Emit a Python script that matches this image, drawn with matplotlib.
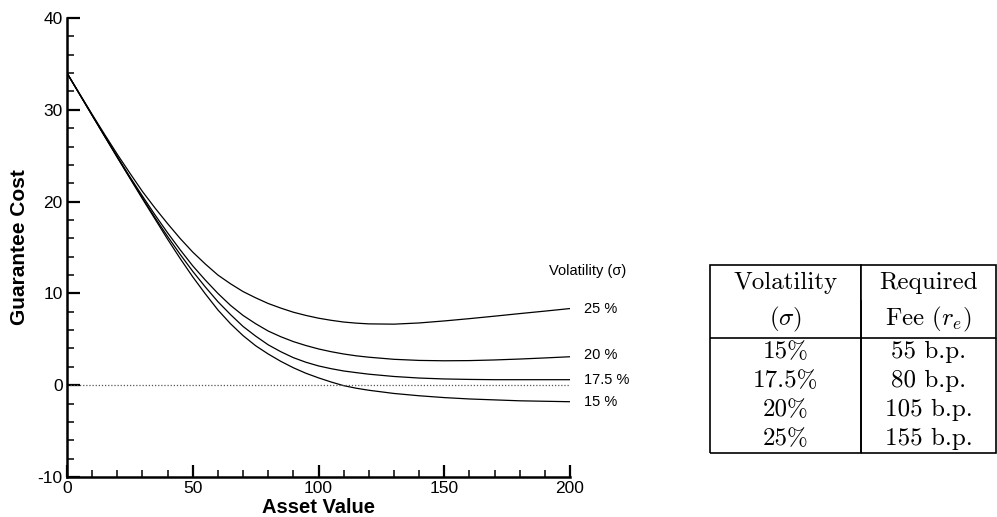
import numpy as np
import matplotlib
matplotlib.use("Agg")
import matplotlib.pyplot as plt
from matplotlib.ticker import MultipleLocator

plt.rcParams['font.family'] = ['Liberation Sans', 'DejaVu Sans']
plt.rcParams['axes.unicode_minus'] = False
plt.rcParams['mathtext.fontset'] = 'cm'

# asset value grid (finer where the curves bend) and guarantee cost per volatility
asset = [0, 5, 10, 15, 20, 25, 30, 35, 40, 45, 50, 55, 60, 65, 70, 75, 80, 85,
         90, 95, 100, 105, 110, 115, 120, 130, 140, 150, 160, 170, 180, 190, 200]
cost_15 = [34.0, 31.7, 29.4, 27.1, 24.8, 22.55, 20.3, 18.1, 15.9, 13.8, 11.8,
           9.95, 8.2, 6.7, 5.4, 4.3, 3.4, 2.6, 1.9, 1.3, 0.8, 0.35, -0.05, -0.33,
           -0.55, -0.9, -1.15, -1.35, -1.5, -1.6, -1.7, -1.75, -1.8]
cost_175 = [34.0, 31.7, 29.4, 27.1, 24.85, 22.6, 20.4, 18.25, 16.2, 14.25, 12.4,
            10.7, 9.1, 7.7, 6.4, 5.35, 4.4, 3.65, 3.0, 2.5, 2.1, 1.8, 1.55, 1.37,
            1.2, 0.95, 0.78, 0.68, 0.63, 0.6, 0.6, 0.6, 0.6]
cost_20 = [34.0, 31.7, 29.4, 27.15, 24.9, 22.7, 20.6, 18.55, 16.6, 14.75, 13.0,
           11.45, 10.0, 8.7, 7.6, 6.7, 5.9, 5.28, 4.75, 4.32, 3.95, 3.65, 3.4, 3.2,
           3.05, 2.82, 2.7, 2.66, 2.68, 2.75, 2.85, 2.97, 3.1]
cost_25 = [34.0, 31.75, 29.5, 27.3, 25.15, 23.1, 21.1, 19.3, 17.6, 15.98, 14.5,
           13.2, 12.0, 11.05, 10.2, 9.52, 8.9, 8.4, 7.95, 7.6, 7.3, 7.07, 6.88, 6.76,
           6.68, 6.65, 6.78, 7.0, 7.25, 7.52, 7.8, 8.07, 8.35]

curve_labels = ['25 %', '20 %', '17.5 %', '15 %']
curves = [cost_25, cost_20, cost_175, cost_15]

# required fee table
vol_col = ['15%', '17.5%', '20%', '25%']
fee_col = ['55 b.p.', '80 b.p.', '105 b.p.', '155 b.p.']

fig = plt.figure(figsize=(9.97, 5.17), dpi=100)
W, H = 997, 517

def fig_box(x0, y0, x1, y1):
    # pixel box (top-left origin) -> figure fraction rect
    return [x0 / W, 1 - y1 / H, (x1 - x0) / W, (y1 - y0) / H]

ax = fig.add_axes(fig_box(67, 18, 570, 477))
ax.set_xlim(0, 200)
ax.set_ylim(-10, 40)

for c in curves:
    ax.plot(asset, c, color='black', lw=0.9)
ax.axhline(0, color='#555555', lw=0.9, ls=(0, (1, 1.5)))

for lab, c in zip(curve_labels, curves):
    dy = 1.5 if lab == '20 %' else 0
    ax.annotate(lab, (asset[-1], c[-1]), xytext=(10, dy), textcoords='offset points',
                ha='left', va='center', fontsize=10.5, annotation_clip=False)
ax.annotate('Volatility (σ)', (asset[-1], cost_25[-1]), xytext=(13, 27),
            textcoords='offset points', ha='center', va='center', fontsize=10.5,
            annotation_clip=False)

for s in ['top', 'right']:
    ax.spines[s].set_visible(False)
for s in ['left', 'bottom']:
    ax.spines[s].set_linewidth(1.8)

ax.xaxis.set_major_locator(MultipleLocator(50))
ax.xaxis.set_minor_locator(MultipleLocator(10))
ax.yaxis.set_major_locator(MultipleLocator(10))
ax.yaxis.set_minor_locator(MultipleLocator(2))
ax.tick_params(which='major', direction='in', length=9, width=1.6, labelsize=12.5)
ax.tick_params(which='minor', direction='in', length=5, width=1.1)
ax.tick_params(axis='x', which='major', pad=3)
ax.tick_params(axis='y', which='major', pad=3)

ax.set_xlabel('Asset Value', fontsize=14.5, fontweight='bold', labelpad=1)
ax.set_ylabel('Guarantee Cost', fontsize=15, fontweight='bold', labelpad=6)

# fee table on the right
tab_ax = fig.add_axes(fig_box(710, 265, 996, 453))
tab_ax.axis('off')
cells = [['Volatility', 'Required'],
         [r'$(\sigma)$', r'Fee $(r_e)$']] + [[v, f] for v, f in zip(vol_col, fee_col)]
tbl = tab_ax.table(cellText=cells, cellLoc='center', bbox=[0, 0, 1, 1])
tbl.auto_set_font_size(False)
row_h = [35, 38] + [28.75] * len(vol_col)
n_rows = len(cells)
for (r, col), cell in tbl.get_celld().items():
    cell.set_height(row_h[r])
    cell.set_width(151 if col == 0 else 135)
    cell.set_linewidth(1.2)
    if r == 0:
        cell.visible_edges = 'TLR'
    elif r == 1 or r == n_rows - 1:
        cell.visible_edges = 'BLR'
    else:
        cell.visible_edges = 'LR'
    cell.get_text().set_fontfamily('cmr10')
    cell.get_text().set_fontsize(18)

fig.savefig('out.png', dpi=100)
